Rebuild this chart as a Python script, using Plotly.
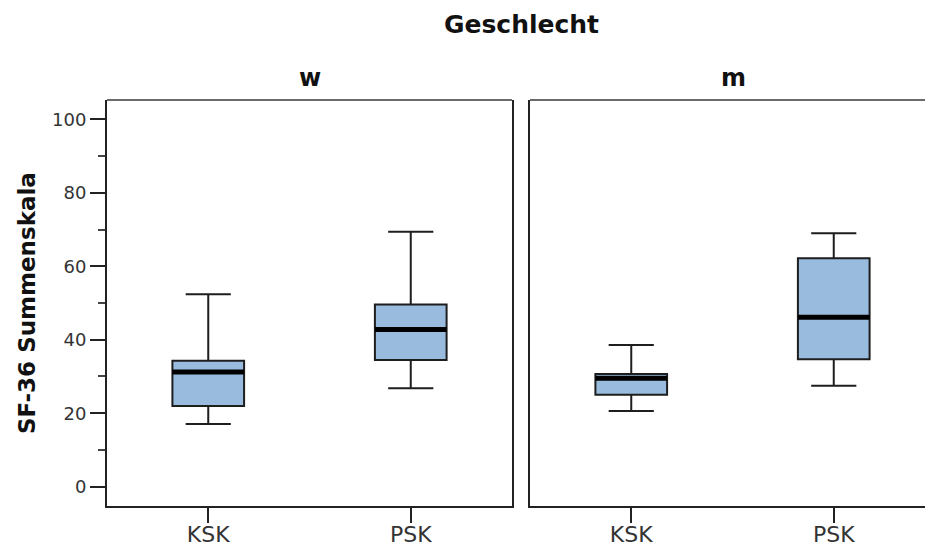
import plotly.graph_objects as go

groups = ["KSK", "PSK"]
panels = ["w", "m"]

# w panel
w_lower = [17.1, 26.8]
w_q1 = [22.0, 34.5]
w_median = [31.2, 42.8]
w_q3 = [34.3, 49.6]
w_upper = [52.4, 69.4]

# m panel
m_lower = [20.6, 27.5]
m_q1 = [25.0, 34.7]
m_median = [29.5, 46.1]
m_q3 = [30.7, 62.2]
m_upper = [38.6, 69.0]

y_ticks = [0, 20, 40, 60, 80, 100]

FONT = "DejaVu Sans, Arial, sans-serif"
FILL = "#99BBDD"
LINE = "#1e1e1e"
BOX_W = 0.354
WHISK = 0.63

fig = go.Figure()

data = [
    ("x", "y", w_lower, w_q1, w_median, w_q3, w_upper),
    ("x2", "y2", m_lower, m_q1, m_median, m_q3, m_upper),
]
for xa, ya, lo, q1, med, q3, up in data:
    fig.add_trace(go.Box(
        x=groups, q1=q1, median=med, q3=q3, lowerfence=lo, upperfence=up,
        xaxis=xa, yaxis=ya, fillcolor=FILL, line=dict(color=LINE, width=2),
        width=BOX_W, whiskerwidth=WHISK, boxpoints=False, showlegend=False,
        hoverinfo="skip",
    ))
    # thick median line overlay
    fig.add_trace(go.Box(
        x=groups, q1=med, median=med, q3=med, lowerfence=med, upperfence=med,
        xaxis=xa, yaxis=ya, fillcolor="rgba(0,0,0,0)", line=dict(color="#000000", width=5),
        width=BOX_W, whiskerwidth=WHISK, boxpoints=False, showlegend=False,
        hoverinfo="skip",
    ))

L = 107
T = 100
B = 43
W = 925
H = 549
plot_w = W - L
plot_h = H - T - B
d1_end = (512 - L) / plot_w
d2_start = (530 - L) / plot_w
vis = (W - 530) / 405.0

yrange = [-5.25, 105.25]
common_x = dict(
    type="category", showline=True, linecolor="#222", linewidth=2,
    ticks="outside", ticklen=15, tickwidth=2, tickcolor="#222",
    tickfont=dict(family=FONT, size=22, color="#333"), ticklabelstandoff=-7,
    showgrid=False, zeroline=False, fixedrange=True, automargin=False,
)
fig.update_layout(
    width=W, height=H,
    margin=dict(l=L, r=0, t=T, b=B, pad=0, autoexpand=False),
    plot_bgcolor="white", paper_bgcolor="white",
    boxmode="overlay",
    xaxis=dict(domain=[0, d1_end], range=[-0.5, 1.5], anchor="y", **common_x),
    xaxis2=dict(domain=[d2_start, 1], range=[-0.5, -0.5 + 2 * vis], anchor="y2", **common_x),
    yaxis=dict(
        domain=[0, 1], range=yrange, tickvals=y_ticks, anchor="x", automargin=False,
        showline=True, linecolor="#222", linewidth=2, mirror=True,
        ticks="outside", ticklen=15, tickwidth=2, tickcolor="#222",
        minor=dict(dtick=10, ticks="outside", ticklen=7, tickwidth=2, tickcolor="#444", showgrid=False),
        tickfont=dict(family=FONT, size=18, color="#333"),
        showgrid=False, zeroline=False, fixedrange=True,
    ),
    yaxis2=dict(
        domain=[0, 1], range=yrange, anchor="x2", matches="y", automargin=False,
        showline=True, linecolor="#222", linewidth=2,
        showticklabels=False, ticks="", showgrid=False, zeroline=False,
    ),
    shapes=[
        dict(type="line", xref="x domain", yref="y domain", x0=0, x1=1, y0=1, y1=1,
             line=dict(color="#6a6a6a", width=2)),
        dict(type="line", xref="x2 domain", yref="y2 domain", x0=0, x1=1, y0=1, y1=1,
             line=dict(color="#6a6a6a", width=2)),
    ],
    annotations=[
        dict(text="<b>Geschlecht</b>", x=(521 - L) / plot_w, y=(H - B - 24) / plot_h,
             xref="paper", yref="paper", showarrow=False,
             font=dict(family=FONT, size=25, color="#111"), xanchor="center", yanchor="middle"),
        dict(text="<b>" + panels[0] + "</b>", x=(309.5 - L) / plot_w, y=(H - B - 78) / plot_h,
             xref="paper", yref="paper", showarrow=False,
             font=dict(family=FONT, size=24, color="#111"), xanchor="center", yanchor="middle"),
        dict(text="<b>" + panels[1] + "</b>", x=(733 - L) / plot_w, y=(H - B - 78) / plot_h,
             xref="paper", yref="paper", showarrow=False,
             font=dict(family=FONT, size=24, color="#111"), xanchor="center", yanchor="middle"),
        dict(text="<b>SF-36 Summenskala</b>", x=(27 - L) / plot_w, y=0.5,
             xref="paper", yref="paper", showarrow=False, textangle=-90,
             font=dict(family=FONT, size=23, color="#111"), xanchor="center", yanchor="middle"),
    ],
)

fig.write_html("out.html", config={"displayModeBar": False},
               post_script="document.body.style.margin='0';")
